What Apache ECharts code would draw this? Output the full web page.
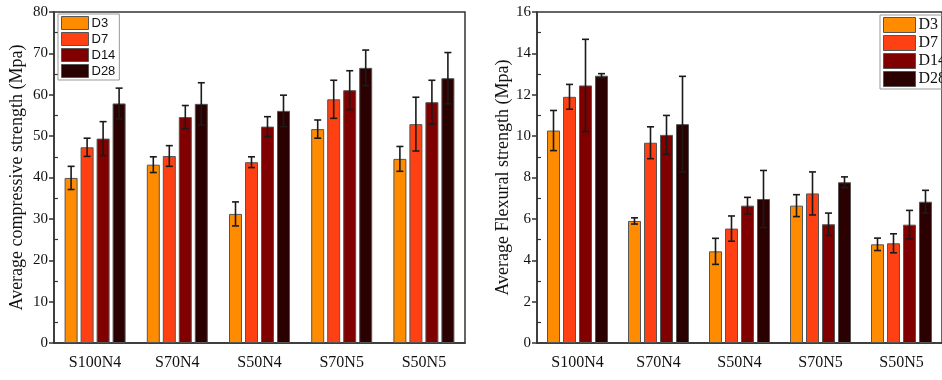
<!DOCTYPE html>
<html>
<head>
<meta charset="utf-8">
<script src="https://cdn.jsdelivr.net/npm/echarts@6/dist/echarts.min.js"></script>
<style>html,body{margin:0;padding:0;background:#fff}#c{width:942px;height:380px}</style>
</head>
<body>
<div id="c"></div>
<script>
var categories = ['S100N4', 'S70N4', 'S50N4', 'S70N5', 'S50N5'];
var seriesNames = ['D3', 'D7', 'D14', 'D28'];
var colors = ['#FF8C00', '#FF4012', '#800000', '#2B0000'];

// Compressive strength (MPa) means and errors
var compD3  = [39.9, 43.1, 31.2, 51.7, 44.5];
var compD7  = [47.3, 45.2, 43.7, 58.9, 52.9];
var compD14 = [49.4, 54.6, 52.3, 61.1, 58.2];
var compD28 = [57.9, 57.8, 56.1, 66.5, 64.0];
var compErrD3  = [2.8, 1.9, 2.9, 2.2, 3.0];
var compErrD7  = [2.2, 2.5, 1.3, 4.6, 6.5];
var compErrD14 = [4.1, 2.8, 2.4, 4.7, 5.3];
var compErrD28 = [3.7, 5.1, 3.8, 4.3, 6.2];

// Flexural strength (MPa) means and errors
var flexD3  = [10.27, 5.90, 4.43, 6.64, 4.77];
var flexD7  = [11.90, 9.68, 5.53, 7.23, 4.82];
var flexD14 = [12.45, 10.06, 6.64, 5.74, 5.72];
var flexD28 = [12.92, 10.58, 6.96, 7.77, 6.83];
var flexErrD3  = [0.97, 0.15, 0.63, 0.53, 0.30];
var flexErrD7  = [0.60, 0.77, 0.61, 1.04, 0.46];
var flexErrD14 = [2.23, 0.94, 0.40, 0.54, 0.69];
var flexErrD28 = [0.10, 2.31, 1.38, 0.26, 0.55];

var compTicks = [0, 80, 10];
var flexTicks = [0, 16, 2];

var compVals = [compD3, compD7, compD14, compD28];
var compErrs = [compErrD3, compErrD7, compErrD14, compErrD28];
var flexVals = [flexD3, flexD7, flexD14, flexD28];
var flexErrs = [flexErrD3, flexErrD7, flexErrD14, flexErrD28];

var BAR_W = 13, BAR_GAP = 3;
var serif = 'Liberation Serif';

function errSeries(vals, errs, k, axisIdx) {
  var data = vals.map(function (v, i) { return [i, v, errs[i]]; });
  return {
    type: 'custom',
    xAxisIndex: axisIdx, yAxisIndex: axisIdx,
    z: 10, silent: true,
    data: data,
    renderItem: function (params, api) {
      var idx = api.value(0), v = api.value(1), e = api.value(2);
      var off = (k - 1.5) * (BAR_W + BAR_GAP);
      var hi = api.coord([idx, v + e]);
      var lo = api.coord([idx, v - e]);
      var x = hi[0] + off;
      var cw = 3.5;
      var st = { stroke: '#1a1a1a', lineWidth: 1.6 };
      return {
        type: 'group',
        children: [
          { type: 'line', shape: { x1: x, y1: hi[1], x2: x, y2: lo[1] }, style: st },
          { type: 'line', shape: { x1: x - cw, y1: hi[1], x2: x + cw, y2: hi[1] }, style: st },
          { type: 'line', shape: { x1: x - cw, y1: lo[1], x2: x + cw, y2: lo[1] }, style: st }
        ]
      };
    }
  };
}

var series = [];
[0, 1].forEach(function (g) {
  var vals = g === 0 ? compVals : flexVals;
  var errs = g === 0 ? compErrs : flexErrs;
  seriesNames.forEach(function (n, k) {
    series.push({
      name: n, type: 'bar', xAxisIndex: g, yAxisIndex: g,
      data: vals[k], barWidth: BAR_W, barGap: (BAR_GAP / BAR_W * 100) + '%',
      itemStyle: { color: colors[k], borderColor: '#555', borderWidth: 1 },
      silent: true
    });
  });
  seriesNames.forEach(function (n, k) {
    series.push(errSeries(vals[k], errs[k], k, g));
  });
});

function xAx(g) {
  return {
    type: 'category', gridIndex: g, data: categories,
    axisLine: { lineStyle: { color: '#333', width: 1.5 } },
    axisTick: { alignWithLabel: true, length: 5, lineStyle: { color: '#333', width: 1.5 } },
    axisLabel: { fontFamily: serif, fontSize: 16, color: '#111', margin: 12 },
    splitLine: { show: false }
  };
}
function yAx(g, t, name, gap) {
  return {
    type: 'value', gridIndex: g, min: t[0], max: t[1], interval: t[2],
    name: name, nameLocation: 'middle', nameGap: gap,
    nameTextStyle: { fontFamily: serif, fontSize: 18, color: '#111' },
    axisLine: { show: true, lineStyle: { color: '#333', width: 1.5 } },
    axisTick: { show: true, length: 5, lineStyle: { color: '#333', width: 1.5 } },
    minorTick: { show: true, splitNumber: 2, length: -4, lineStyle: { color: '#333', width: 1.2 } },
    axisLabel: { fontFamily: serif, fontSize: 15, color: '#111', margin: 6 },
    splitLine: { show: false }
  };
}

var chart = echarts.init(document.getElementById('c'), null, { renderer: 'canvas' });
chart.setOption({
  animation: false,
  backgroundColor: '#fff',
  grid: [
    { left: 54, top: 12, width: 411, height: 331, show: true, borderColor: '#333', borderWidth: 1.5, backgroundColor: 'transparent' },
    { left: 537, top: 12, width: 411, height: 331, show: true, borderColor: '#333', borderWidth: 1.5, backgroundColor: 'transparent' }
  ],
  xAxis: [xAx(0), xAx(1)],
  yAxis: [
    yAx(0, compTicks, 'Average compressive strength (Mpa)', 28),
    yAx(1, flexTicks, 'Average Flexural strength (Mpa)', 24)
  ],
  legend: [
    {
      data: seriesNames, left: 58, top: 14, orient: 'vertical',
      itemWidth: 27, itemHeight: 13, itemGap: 2,
      padding: [2, 4, 2, 3],
      borderColor: '#999', borderWidth: 1,
      textStyle: { fontFamily: 'Liberation Sans', fontSize: 13, lineHeight: 13, color: '#111', padding: [0, 0, 0, -2] },
      icon: 'rect',
      itemStyle: { borderColor: '#555', borderWidth: 1 },
      selectedMode: false
    },
    {
      data: seriesNames, left: 880, top: 15, orient: 'vertical',
      itemWidth: 32, itemHeight: 15, itemGap: 2,
      padding: [2, 10, 2, 3],
      borderColor: '#999', borderWidth: 1,
      textStyle: { fontFamily: serif, fontSize: 16, lineHeight: 15, color: '#111', padding: [0, 0, 0, -2] },
      icon: 'rect',
      itemStyle: { borderColor: '#555', borderWidth: 1 },
      selectedMode: false
    }
  ],
  series: series
});
</script>
</body>
</html>
